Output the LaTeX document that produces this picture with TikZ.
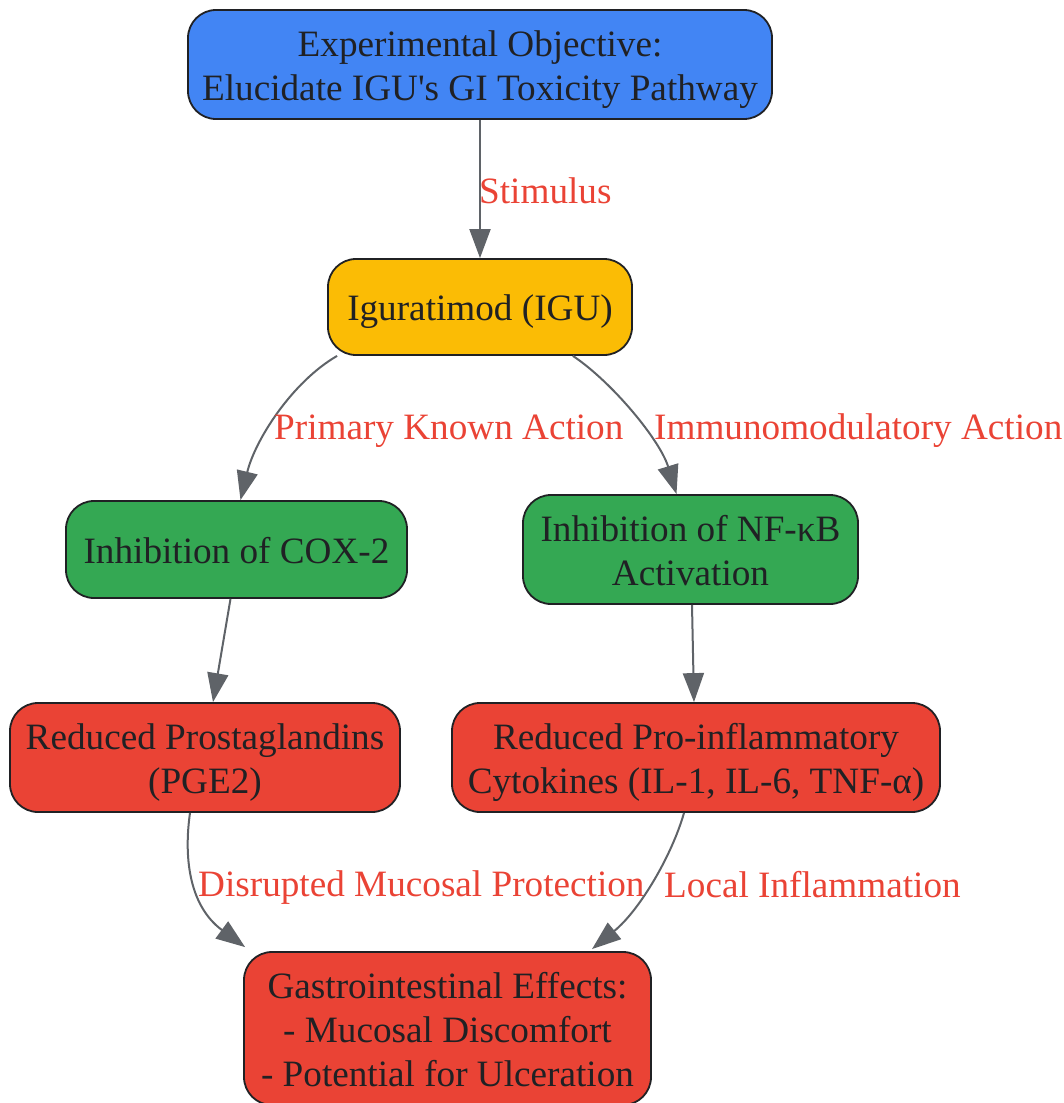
\documentclass[tikz,border=0pt]{standalone}
\usepackage{fontspec}
\setmainfont{Liberation Serif}
\usetikzlibrary{arrows.meta}
\definecolor{gblue}{HTML}{4285F4}
\definecolor{gyellow}{HTML}{FBBC05}
\definecolor{ggreen}{HTML}{34A853}
\definecolor{gred}{HTML}{EA4335}
\definecolor{boxline}{HTML}{202124}
\definecolor{txt}{HTML}{202124}
\definecolor{edgec}{HTML}{5F6368}
\definecolor{labred}{HTML}{EA4335}
\newcommand\tstr{\rule{0pt}{36pt}}
\newcommand\bstr{\rule[-8pt]{0pt}{8pt}}
\begin{document}
\begin{tikzpicture}[x=1pt,y=-1pt,
  box/.style={draw=boxline, line width=1.8pt, rounded corners=28pt, align=center, text=txt,
    font=\fontsize{37.2}{44}\selectfont, inner sep=0pt},
  conn/.style={draw=edgec, line width=2pt, -{Triangle[length=29pt,width=21pt]}},
  lab/.style={text=labred, font=\fontsize{37.2}{44}\selectfont, inner sep=0pt, anchor=west}]
\useasboundingbox (0,0) rectangle (1064,1103);

\node[box, fill=gblue, minimum width=584pt, minimum height=109pt] (obj) at (480,64.5)
  {\tstr Experimental Objective:\\Elucidate IGU\textquotesingle s GI Toxicity Pathway\bstr};
\node[box, fill=gyellow, minimum width=304pt, minimum height=96pt] (igu) at (480,307)
  {\tstr Iguratimod (IGU)\bstr};
\node[box, fill=ggreen, minimum width=341pt, minimum height=97pt] (cox) at (236.5,549.5)
  {\tstr Inhibition of COX-2\bstr};
\node[box, fill=ggreen, minimum width=335pt, minimum height=109pt] (nfkb) at (690.5,549.5)
  {\tstr Inhibition of NF-κB\\Activation\bstr};
\node[box, fill=gred, minimum width=390pt, minimum height=109pt] (pge) at (205,757.5)
  {\tstr Reduced Prostaglandins\\(PGE2)\bstr};
\node[box, fill=gred, minimum width=488pt, minimum height=109pt] (cyt) at (696,757.5)
  {\tstr Reduced Pro-inflammatory\\Cytokines (IL-1, IL-6, TNF-α)\bstr};
\node[box, fill=gred, minimum width=407pt, minimum height=153pt] (gi) at (447.5,1028.5)
  {\tstr Gastrointestinal Effects:\\- Mucosal Discomfort\\- Potential for Ulceration\bstr};

\draw[conn] (obj.south) -- (igu.north);
\node[lab] (l1) at (479,191) {Stimulus};

\draw[conn] ([xshift=10pt]igu.south west) .. controls (292,382) and (255,440) .. ([xshift=4pt]cox.north);
\node[lab] (l2) at (274,431) {Primary Known Action};

\draw[conn] ([xshift=-60pt]igu.south east) .. controls (612,382) and (660,440) .. ([xshift=-14pt]nfkb.north);
\node[lab] (l3) at (654,431) {Immunomodulatory Action};

\draw[conn] ([xshift=-6pt]cox.south) -- ([xshift=8pt]pge.north);
\draw[conn] ([xshift=1.5pt]nfkb.south) -- ([xshift=-2pt]cyt.north);

\draw[conn] ([xshift=-15pt]pge.south) .. controls (184,855) and (188,905) .. ([xshift=2pt,yshift=4pt]gi.north west);
\node[lab] (l4) at (198,888) {Disrupted Mucosal Protection};

\draw[conn] ([xshift=-12pt]cyt.south) .. controls (672,855) and (640,910) .. ([xshift=144.5pt,yshift=2pt]gi.north);
\node[lab] (l5) at (664,885) {Local Inflammation};
\end{tikzpicture}
\end{document}
